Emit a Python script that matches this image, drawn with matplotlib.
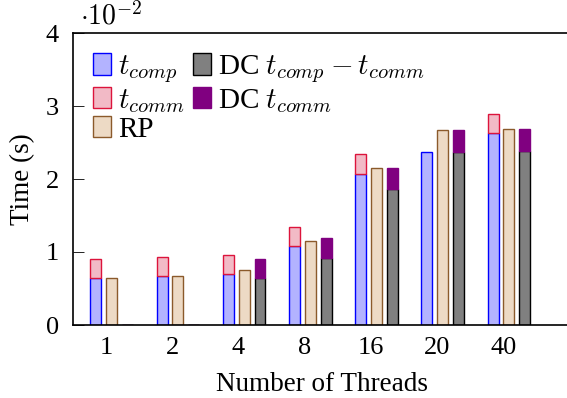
import numpy as np
import matplotlib
matplotlib.use("Agg")
import matplotlib.pyplot as plt

plt.rcParams["font.family"] = ["Liberation Serif", "DejaVu Serif"]
plt.rcParams["mathtext.fontset"] = "cm"

threads = ["1", "2", "4", "8", "16", "20", "40"]
# values in units of 1e-2 s
t_comp = [0.64, 0.667, 0.70, 1.08, 2.07, 2.37, 2.63]
t_comm = [0.26, 0.263, 0.263, 0.267, 0.27, 0.0, 0.265]
rp = [0.64, 0.675, 0.757, 1.155, 2.15, 2.67, 2.69]
dc_comp_minus_comm = [0.0, 0.0, 0.644, 0.918, 1.86, 2.366, 2.38]
dc_comm = [0.0, 0.0, 0.264, 0.278, 0.295, 0.304, 0.305]

x = np.arange(len(threads))
w = 0.165
comm = np.array(t_comm)
has_comm = comm > 0

fig = plt.figure(figsize=(5.67, 3.98), dpi=100)
ax_w = 498
ax = fig.add_axes([73 / 567, 1 - 325 / 398, ax_w / 567, 292 / 398])

ax.bar(x - 0.155, t_comp, w, color="#b3b3ff", edgecolor="blue", linewidth=1,
       label="$t_{comp}$")
ax.bar((x - 0.155)[has_comm], comm[has_comm], w,
       bottom=np.array(t_comp)[has_comm], color="#f2bac6", edgecolor="#dc143c",
       linewidth=1, label="$t_{comm}$")
ax.bar(x + 0.085, rp, w, color="#eddac5", edgecolor="#8b5a2b", linewidth=1,
       label="RP")
ax.bar(x + 0.325, dc_comp_minus_comm, w, color="#808080", edgecolor="black",
       linewidth=1, label="DC $t_{comp} - t_{comm}$")
ax.bar(x + 0.325, dc_comm, w, bottom=dc_comp_minus_comm, color="#800080",
       edgecolor="#800080", linewidth=1, label="DC $t_{comm}$")

ax.set_xlim(-0.5, -0.5 + ax_w / 66.2)
ax.set_ylim(0, 4)
ax.set_xticks(x)
ax.set_xticklabels(threads)
ax.set_yticks([0, 1, 2, 3, 4])
ax.tick_params(axis="x", length=0, labelsize=19, pad=9)
ax.tick_params(axis="y", direction="in", length=8, width=0.6, labelsize=19, pad=10)
for s in ax.spines.values():
    s.set_linewidth(1.2)

ax.set_ylabel("Time (s)", fontsize=19.5, labelpad=8)
ax.set_xlabel("Number of Threads", fontsize=19.5, labelpad=9)
ax.text(80 / 567, 1 - 16 / 398, r"$\cdot 10^{-2}$", transform=fig.transFigure,
        fontsize=20, va="center", ha="left")

leg = ax.legend(ncol=2, loc="upper left", bbox_to_anchor=(0.0, 1.0),
                frameon=False, fontsize=21, handlelength=0.6, handleheight=0.75,
                handletextpad=0.25, columnspacing=0.3, labelspacing=0.05,
                borderaxespad=0.4, borderpad=0.3)

fig.savefig("out.png", dpi=100)
